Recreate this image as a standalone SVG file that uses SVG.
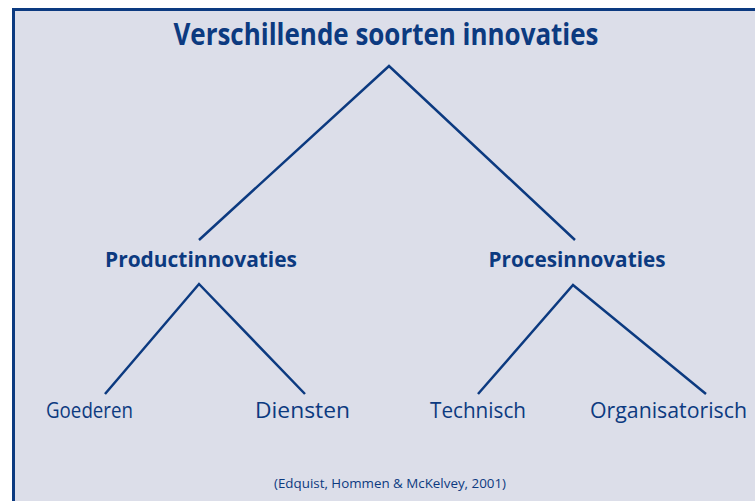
<svg xmlns="http://www.w3.org/2000/svg" width="755" height="501" viewBox="0 0 755 501">
  <style>
    .t { font-family: "Open Sans", "Liberation Sans", sans-serif; fill: #0c3a80; text-anchor: middle; }
    .b { font-weight: bold; }
    .c { fill: none; stroke: #0c3a80; stroke-width: 2.5; stroke-linejoin: miter; }
  </style>
  <rect x="0" y="0" width="755" height="501" fill="#ffffff"/>
  <rect x="13.5" y="9.5" width="760" height="510" fill="#dcdee9" stroke="#0c3a80" stroke-width="3"/>
  <g id="connectors">
    <polyline class="c" points="199,240 389,66 575,240"/>
    <polyline class="c" points="105,394 199,284 305,394"/>
    <polyline class="c" points="478,394 573,285 706,394"/>
  </g>
  <g id="title"><text class="t b" x="386" y="45" font-size="30" textLength="425" lengthAdjust="spacingAndGlyphs">Verschillende soorten innovaties</text></g>
  <g id="productinnovaties"><text class="t b" x="201" y="267" font-size="21" textLength="192" lengthAdjust="spacingAndGlyphs">Productinnovaties</text></g>
  <g id="procesinnovaties"><text class="t b" x="577" y="267" font-size="21" textLength="177" lengthAdjust="spacingAndGlyphs">Procesinnovaties</text></g>
  <g id="goederen"><text class="t" x="89.5" y="418" font-size="21" textLength="87" lengthAdjust="spacingAndGlyphs">Goederen</text></g>
  <g id="diensten"><text class="t" x="302.5" y="418" font-size="21" textLength="95" lengthAdjust="spacingAndGlyphs">Diensten</text></g>
  <g id="technisch"><text class="t" x="478" y="418" font-size="21" textLength="96" lengthAdjust="spacingAndGlyphs">Technisch</text></g>
  <g id="organisatorisch"><text class="t" x="668.5" y="418" font-size="21" textLength="157" lengthAdjust="spacingAndGlyphs">Organisatorisch</text></g>
  <g id="citation"><text class="t" x="390" y="488" font-size="13" textLength="232" lengthAdjust="spacingAndGlyphs">(Edquist, Hommen &amp; McKelvey, 2001)</text></g>
</svg>
